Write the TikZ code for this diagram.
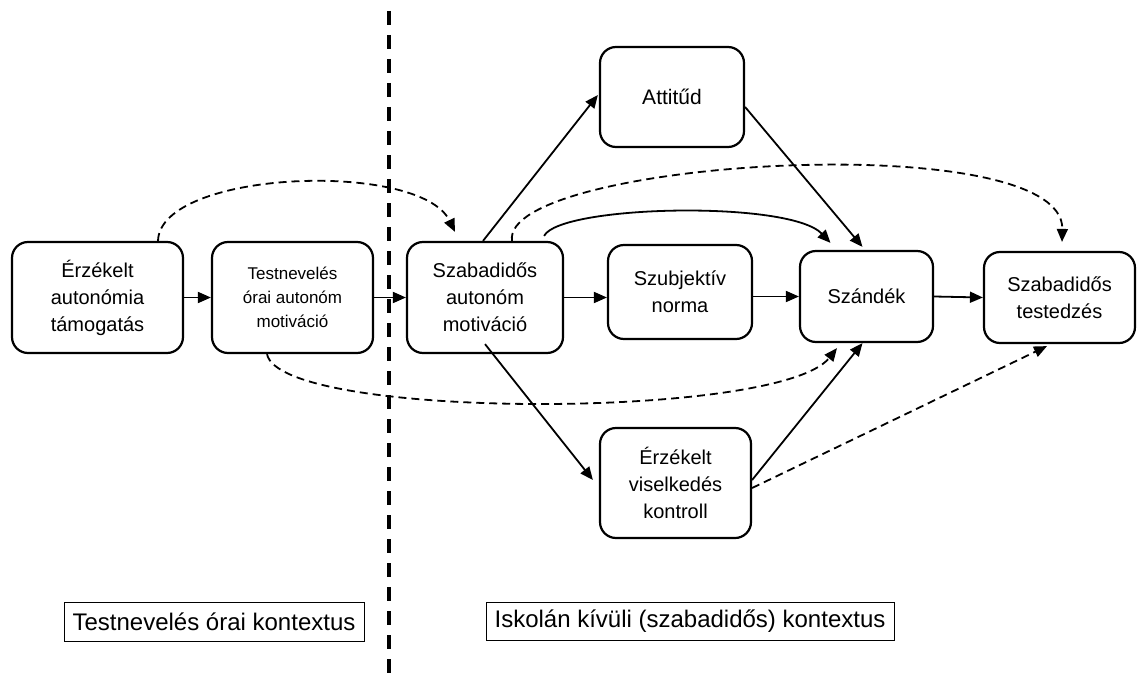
\documentclass[tikz,border=0pt]{standalone}
\usepackage{fontspec}
\setmainfont{Liberation Sans}
\usetikzlibrary{arrows.meta,calc}
\begin{document}
\begin{tikzpicture}[x=1pt,y=-1pt,
 box/.style={draw,line width=2.2pt,rounded corners=16pt,align=center,inner sep=0pt,font=\fontsize{20}{27}\selectfont},
 lbl/.style={draw,line width=1pt,inner sep=0pt,font=\fontsize{24}{28}\selectfont},
 conn/.style={line width=1.8pt,-{Triangle[length=13pt,width=11pt]}},
 dconn/.style={conn,dash pattern=on 8pt off 5pt},
]
\useasboundingbox (0,0) rectangle (1139,682);
\coordinate (vtop) at (389,11);
\coordinate (vbot) at (389,682);
\draw[line width=4pt,dash pattern=on 14pt off 10pt] (vtop) -- (vbot);

\node[box,minimum width=171pt,minimum height=111pt] (e1) at (97.5,297.5) {Érzékelt\\autonómia\\támogatás};
\node[box,minimum width=161pt,minimum height=111pt,font=\fontsize{17}{24}\selectfont] (tn) at (292.5,297.5) {Testnevelés\\órai autonóm\\motiváció};
\node[box,minimum width=156pt,minimum height=111pt] (sa) at (485,297.5) {Szabadidős\\autonóm\\motiváció};
\node[box,minimum width=144pt,minimum height=100pt,font=\fontsize{21}{27}\selectfont] (att) at (672,97) {Attitűd};
\node[box,minimum width=144pt,minimum height=94pt] (sn) at (680,292) {Szubjektív\\norma};
\node[box,minimum width=133pt,minimum height=91pt] (sz) at (866.5,296.5) {Szándék};
\node[box,minimum width=151pt,minimum height=91pt] (st) at (1059.5,297.5) {Szabadidős\\testedzés};
\node[box,minimum width=151pt,minimum height=110pt] (vk) at (675.5,483) {Érzékelt\\viselkedés\\kontroll};

\node[lbl,minimum width=300pt,minimum height=39pt] (l1) at (214,621.5) {Testnevelés órai kontextus};
\node[lbl,minimum width=408pt,minimum height=38pt] (l2) at (690,621) {Iskolán kívüli (szabadidős) kontextus};

% straight arrows
\draw[conn] (e1.east) -- (tn.west);
\draw[conn] (tn.east) -- (sa.west);
\draw[conn] (sa.east) -- (sa.east -| sn.west);
\draw[conn] (sn.east |- sz.west) -- (sz.west);
\draw[conn] (sz.east) -- (st.west);
\draw[conn] ([xshift=-2pt]sa.north) -- ([xshift=-1pt,yshift=2pt]att.west);
\draw[conn] ([yshift=-10pt]att.east) -- ([xshift=-4pt,yshift=3pt]sz.north);
\draw[conn] ([yshift=10pt]sa.south) -- ([xshift=-6pt,yshift=3pt]vk.west);
\draw[conn] ([yshift=3pt]vk.east) -- ([xshift=-4pt]sz.south);

% solid curve
\draw[conn] ([xshift=-20pt,yshift=5pt]sa.north east) .. controls (560,205) and (790,200) .. ([xshift=-36pt,yshift=7pt]sz.north);

% dashed curves
\draw[dconn] ([xshift=60.5pt]e1.north) .. controls (160,170) and (420,160) .. ([xshift=-30pt,yshift=9pt]sa.north);
\draw[dconn] ([xshift=27pt]sa.north) .. controls (500,160) and (1065,125) .. ([xshift=2.5pt,yshift=9pt]st.north);
\draw[dconn] ([xshift=-25.5pt]tn.south) .. controls (280,420) and (780,420) .. ([xshift=-29.5pt,yshift=-5pt]sz.south);
\draw[dconn] ([yshift=-5pt]vk.east) -- ([xshift=-12.5pt,yshift=-2pt]st.south);
\end{tikzpicture}
\end{document}
